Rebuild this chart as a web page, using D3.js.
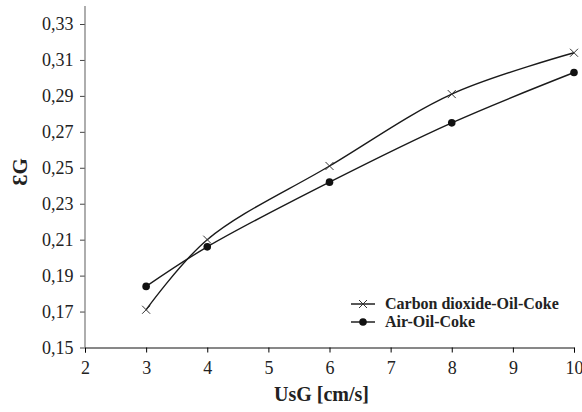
<!DOCTYPE html>
<html>
<head>
<meta charset="utf-8">
<script src="https://cdn.jsdelivr.net/npm/d3@7"></script>
<style>
    body { margin: 0; background: #fff; }
</style>
</head>
<body>
<div id="chart"></div>
<script>

// data
const velocities = [3, 4, 6, 8, 10]
const co2Holdup = [0.171, 0.21, 0.251, 0.291, 0.314]
const airHoldup = [0.184, 0.206, 0.242, 0.275, 0.303]
const seriesNames = ["Carbon dioxide-Oil-Coke", "Air-Oil-Coke"]
const xTicks = [2, 3, 4, 5, 6, 7, 8, 9, 10]
const yTicks = [0.15, 0.17, 0.19, 0.21, 0.23, 0.25, 0.27, 0.29, 0.31, 0.33]

const serif = "'Liberation Serif'"

const svgWidth = 582
const svgHeight = 412

const margin = { left: 85, right: 8, top: 24, bottom: 65 }

const svg = d3.select('#chart')
    .append('svg')
    .attr("width", svgWidth)
    .attr("height", svgHeight)

const x = d3.scaleLinear()
    .domain([2, 10])
    .range([margin.left, 574])

const y = d3.scaleLinear()
    .domain([0.15, 0.33])
    .range([347.5, margin.top])

const fmt = d => d.toFixed(2).replace(".", ",")

// y axis (grey line extends above last tick)
const yAxis = svg.append("g")
    .attr("transform", `translate(${margin.left},0)`)
    .call(d3.axisLeft(y).tickValues(yTicks).tickFormat(fmt).tickSizeOuter(0).tickSize(5).tickPadding(6.5))
yAxis.attr("font-family", serif).attr("font-size", 18)
yAxis.select(".domain").remove()
yAxis.append("line")
    .attr("x1", 0).attr("x2", 0)
    .attr("y1", 6).attr("y2", y(0.15))
    .attr("stroke", "#777")
    .attr("stroke-width", 1.2)
yAxis.selectAll(".tick line").attr("stroke", "#444")
yAxis.selectAll("text")
    .attr("fill", "#222")
    .style("font-family", serif)
    .style("font-size", "18px")

// x axis
const xAxis = svg.append("g")
    .attr("transform", `translate(0,${y(0.15)})`)
    .call(d3.axisBottom(x).tickValues(xTicks).tickSizeOuter(0).tickSize(5).tickPadding(9))
xAxis.attr("font-family", serif).attr("font-size", 18)
xAxis.select(".domain").attr("stroke", "#111")
xAxis.selectAll("text")
    .attr("fill", "#222")
    .style("font-family", serif)
    .style("font-size", "18px")

// axis titles
svg.append("text")
    .attr("x", (x(2) + x(10)) / 2 - 8)
    .attr("y", 401)
    .attr("text-anchor", "middle")
    .style("font-family", serif)
    .style("font-size", "20px")
    .style("font-weight", "bold")
    .attr("fill", "#222")
    .text("UsG [cm/s]")

svg.append("text")
    .attr("transform", "translate(27,172) rotate(-90)")
    .attr("text-anchor", "middle")
    .style("font-family", serif)
    .style("font-size", "21px")
    .style("font-weight", "bold")
    .attr("fill", "#222")
    .text("ƐG")

// lines
const line = d3.line()
    .x(d => x(d[0]))
    .y(d => y(d[1]))
    .curve(d3.curveCatmullRom.alpha(0.5))

const co2 = velocities.map((v, i) => [v, co2Holdup[i]])
const air = velocities.map((v, i) => [v, airHoldup[i]])

svg.append("g")
    .selectAll("path")
    .data([co2, air])
    .join("path")
    .attr("d", d => line(d))
    .attr("fill", "none")
    .attr("stroke", "#1a1a1a")
    .attr("stroke-width", 1.4)

// markers
const cross = (g, cx, cy, s) => {
    g.append("path")
        .attr("d", `M${cx - s},${cy - s}L${cx + s},${cy + s}M${cx - s},${cy + s}L${cx + s},${cy - s}`)
        .attr("stroke", "#333")
        .attr("stroke-width", 1)
        .attr("fill", "none")
}

const marks = svg.append("g")
co2.forEach(d => cross(marks, x(d[0]), y(d[1]), 4))

marks.selectAll("circle")
    .data(air)
    .join("circle")
    .attr("cx", d => x(d[0]))
    .attr("cy", d => y(d[1]))
    .attr("r", 3.8)
    .attr("fill", "#111")

// legend
const legend = svg.append("g")
const rows = [304, 322]
rows.forEach((ly, i) => {
    legend.append("line")
        .attr("x1", 351).attr("x2", 375)
        .attr("y1", ly).attr("y2", ly)
        .attr("stroke", "#111")
        .attr("stroke-width", 1.4)
    if (i == 0) cross(legend, 363, ly, 4)
    else legend.append("circle").attr("cx", 363).attr("cy", ly).attr("r", 3.8).attr("fill", "#111")
    legend.append("text")
        .attr("x", 385)
        .attr("y", ly + 4.5)
        .style("font-family", serif)
        .style("font-size", "16px")
        .style("font-weight", "bold")
        .attr("fill", "#222")
        .text(seriesNames[i])
})

</script>
</body>
</html>
